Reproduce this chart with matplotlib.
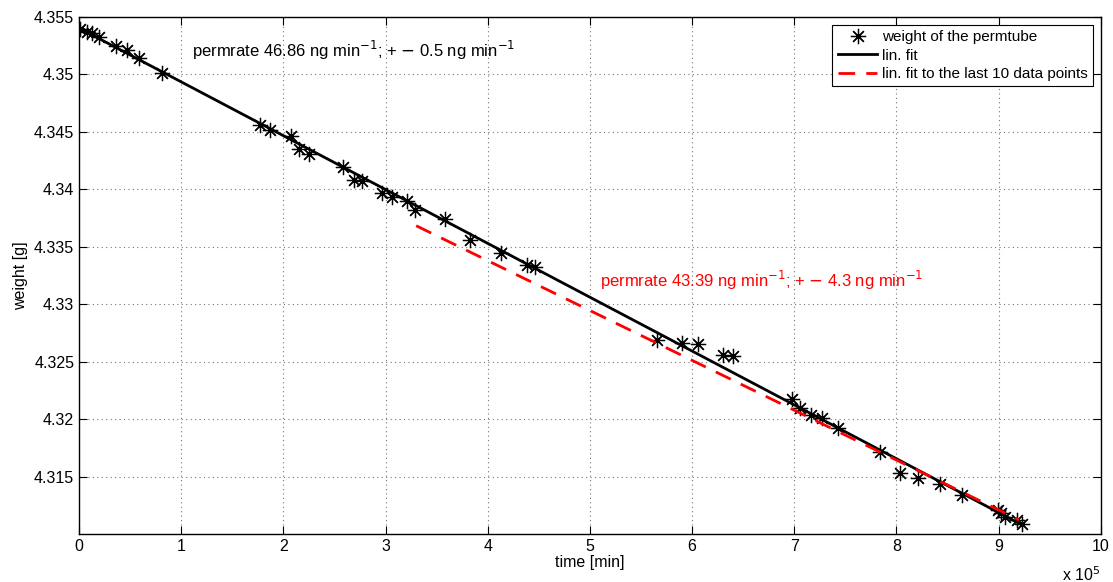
import matplotlib
matplotlib.use("Agg")
import matplotlib.pyplot as plt
from matplotlib.ticker import FuncFormatter

plt.rcParams['font.family'] = ['Liberation Sans', 'DejaVu Sans']

# time in units of 1e5 min, weight in g
time_e5 = [0.01, 0.08, 0.13, 0.20, 0.36, 0.47, 0.59, 0.81,
           1.77, 1.87, 2.07, 2.15, 2.25, 2.58, 2.69, 2.77, 2.97, 3.06, 3.21, 3.29,
           3.58, 3.83, 4.13, 4.38, 4.46,
           5.66, 5.90, 6.06, 6.30, 6.40,
           6.98, 7.06, 7.16, 7.27, 7.43, 7.84, 8.04, 8.21, 8.43, 8.64,
           8.99, 9.02, 9.06, 9.18, 9.23]
weight = [4.35395, 4.35369, 4.35361, 4.35326, 4.35247, 4.35213, 4.35143, 4.35012,
          4.34559, 4.34516, 4.34463, 4.34350, 4.34307, 4.34193, 4.34080, 4.34071, 4.33967, 4.33932, 4.33897, 4.33819,
          4.33740, 4.33557, 4.33444, 4.33340, 4.33322,
          4.32686, 4.32660, 4.32652, 4.32556, 4.32547,
          4.32172, 4.32094, 4.32033, 4.32007, 4.31920, 4.31711, 4.31528, 4.31484, 4.31432, 4.31336,
          4.31205, 4.31179, 4.31144, 4.31118, 4.31083]

fit_x = [0.0, 9.2]
fit_y = [4.35404, 4.31093]
fit10_x = [3.3, 9.2]
fit10_y = [4.33683, 4.31123]

xticks = list(range(0, 11))
yticks = [4.315, 4.32, 4.325, 4.33, 4.335, 4.34, 4.345, 4.35, 4.355]

fig = plt.figure(figsize=(11.13, 5.82), dpi=100)
ax = fig.add_axes([0.071, 0.0825, 0.918, 0.8883])

ax.plot(time_e5, weight, linestyle='none', marker=(8, 2, 0), markersize=11,
        markeredgewidth=0.9, color='black', label='weight of the permtube')
ax.plot(fit_x, fit_y, color='black', lw=2, label='lin. fit')
ax.plot(fit10_x, fit10_y, color='#ff0000', lw=2, dashes=(6, 4),
        label='lin. fit to the last 10 data points')

ax.set_xlim(0, 10)
ax.set_ylim(4.31, 4.355)
ax.set_xticks(xticks)
ax.set_yticks(yticks)
ax.yaxis.set_major_formatter(FuncFormatter(lambda v, p: '%g' % round(v, 4)))
ax.xaxis.set_major_formatter(FuncFormatter(lambda v, p: '%g' % v))
ax.tick_params(direction='in', top=True, right=True, labelsize=11.5, length=6, width=0.8)
ax.grid(True, linestyle=(0, (1, 3)), color='#777777', lw=0.8)
for s in ax.spines.values():
    s.set_linewidth(1.0)

ax.set_xlabel('time [min]', fontsize=11.5, labelpad=1)
ax.set_ylabel('weight [g]', fontsize=11.5, labelpad=4)
ax.text(1.0, -0.078, r'x 10$^5$', transform=ax.transAxes, ha='right', va='center', fontsize=11.5)

ax.text(1.106, 4.35213, r'permrate 46.86 ng min$^{-1}$; + $-$ 0.5 ng min$^{-1}$',
        fontsize=12, va='center', ha='left', color='black')
ax.text(5.1, 4.33209, r'permrate 43.39 ng min$^{-1}$; + $-$ 4.3 ng min$^{-1}$',
        fontsize=12, va='center', ha='left', color='#ff0000')

leg = ax.legend(loc='upper right', fontsize=11, frameon=True, fancybox=False,
                edgecolor='black', framealpha=1, borderpad=0.35, labelspacing=0.3,
                handlelength=2.6, handletextpad=0.3, borderaxespad=0.5)
leg.get_frame().set_linewidth(0.8)

fig.savefig('out.png', dpi=100)
